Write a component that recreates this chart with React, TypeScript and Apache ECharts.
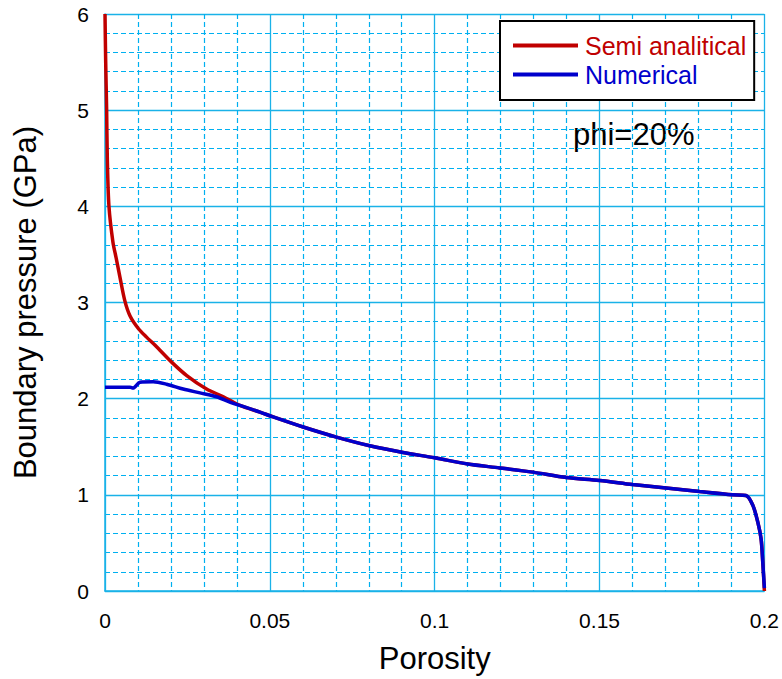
import React, { useEffect, useRef } from "react";
import * as echarts from "echarts";

const semiX = [0, 0.0002, 0.0005, 0.0007, 0.0012, 0.0024, 0.0034, 0.0045, 0.006, 0.0076, 0.0101, 0.0126, 0.0152, 0.0202, 0.0248, 0.0308, 0.0359, 0.0409, 0.047, 0.051, 0.0601, 0.0702, 0.0803, 0.0904, 0.1, 0.11, 0.1197, 0.1298, 0.1399, 0.15, 0.16, 0.1702, 0.1803, 0.1904, 0.1944, 0.1965, 0.198, 0.199, 0.1995, 0.2];
const semiY = [6.0, 5.52, 5.0, 4.5, 4.0, 3.63, 3.46, 3.27, 3.02, 2.86, 2.73, 2.64, 2.555, 2.38, 2.24, 2.1, 2.02, 1.93, 1.86, 1.81, 1.705, 1.6, 1.51, 1.44, 1.385, 1.32, 1.28, 1.236, 1.18, 1.15, 1.107, 1.07, 1.034, 1.0, 0.993, 0.89, 0.716, 0.54, 0.3, 0];

const numX = [0, 0.0076, 0.0085, 0.0106, 0.0146, 0.0187, 0.0237, 0.0288, 0.0338, 0.0389, 0.0409, 0.047, 0.051, 0.0601, 0.0702, 0.0803, 0.0904, 0.1, 0.11, 0.1197, 0.1298, 0.1399, 0.15, 0.16, 0.1702, 0.1803, 0.1904, 0.1944, 0.1965, 0.198, 0.199, 0.1995, 0.2];
const numY = [2.12, 2.12, 2.11, 2.17, 2.175, 2.15, 2.1, 2.06, 2.02, 1.95, 1.93, 1.86, 1.81, 1.705, 1.6, 1.51, 1.44, 1.385, 1.32, 1.28, 1.236, 1.18, 1.15, 1.107, 1.07, 1.034, 1.0, 0.993, 0.89, 0.716, 0.54, 0.3, 0.03];

const seriesNames = ["Semi analitical", "Numerical"];
const annotation = "phi=20%";
const xTitle = "Porosity";
const yTitle = "Boundary pressure (GPa)";

const FONT = "Liberation Sans, Arial, sans-serif";
const MAJOR = "#1ab2e8";
const MINOR = "#00b0f0";

export default function App() {
  const ref = useRef<HTMLDivElement>(null);
  useEffect(() => {
    if (!ref.current) return;
    const chart = echarts.init(ref.current, undefined, { renderer: "svg" });
    const semiData = semiX.map((x, i) => [x, semiY[i]]);
    const numData = numX.map((x, i) => [x, numY[i]]);
    chart.setOption({
      animation: false,
      backgroundColor: "#ffffff",
      textStyle: { fontFamily: FONT },
      grid: { left: 105, right: 17, top: 14, bottom: 87 },
      legend: {
        orient: "vertical",
        left: 500,
        top: 21,
        padding: [12, 8, 13, 13],
        itemGap: 4,
        itemWidth: 65,
        itemHeight: 4,
        icon: "rect",
        borderColor: "#000000",
        borderWidth: 2,
        backgroundColor: "#ffffff",
        data: [
          { name: seriesNames[0], textStyle: { color: "#c00000" } },
          { name: seriesNames[1], textStyle: { color: "#0000cc" } },
        ],
        textStyle: { fontSize: 25, fontFamily: FONT, padding: [0, 0, 0, 2] },
      },
      xAxis: {
        type: "value",
        min: 0,
        max: 0.2,
        interval: 0.05,
        minorSplitNumber: 5,
        name: xTitle,
        nameLocation: "middle",
        nameGap: 52,
        nameTextStyle: { fontSize: 31, color: "#000", fontFamily: FONT },
        axisLine: { show: true, lineStyle: { color: MAJOR, width: 1.5 } },
        axisTick: { show: false },
        axisLabel: { fontSize: 21, color: "#000", margin: 19, fontFamily: FONT },
        splitLine: { show: true, lineStyle: { color: MAJOR, width: 1.3 } },
        minorTick: { show: false },
        minorSplitLine: { show: true, lineStyle: { color: MINOR, width: 1.2, type: [5, 3], opacity: 1 } },
      },
      yAxis: {
        type: "value",
        min: 0,
        max: 6,
        interval: 1,
        minorSplitNumber: 5,
        name: yTitle,
        nameLocation: "middle",
        nameGap: 64,
        nameTextStyle: { fontSize: 31, color: "#000", fontFamily: FONT },
        axisLine: { show: true, lineStyle: { color: MAJOR, width: 1.5 } },
        axisTick: { show: false },
        axisLabel: { fontSize: 21, color: "#000", margin: 16, fontFamily: FONT },
        splitLine: { show: true, lineStyle: { color: MAJOR, width: 1.3 } },
        minorTick: { show: false },
        minorSplitLine: { show: true, lineStyle: { color: MINOR, width: 1.2, type: [5, 3], opacity: 1 } },
      },
      graphic: [
        {
          type: "text",
          x: 573,
          y: 134,
          style: {
            text: annotation,
            fontSize: 31,
            fontFamily: FONT,
            fill: "#000",
            verticalAlign: "middle",
            align: "left",
          },
        },
      ],
      series: [
        {
          name: seriesNames[0],
          type: "line",
          data: semiData,
          showSymbol: false,
          smooth: 0.3,
          lineStyle: { color: "#c00000", width: 3.5 },
          itemStyle: { color: "#c00000" },
          z: 2,
        },
        {
          name: seriesNames[1],
          type: "line",
          data: numData,
          showSymbol: false,
          smooth: 0.3,
          lineStyle: { color: "#0000cc", width: 3.5 },
          itemStyle: { color: "#0000cc" },
          z: 3,
        },
      ],
    });
    return () => chart.dispose();
  }, []);
  return (
    <div
      ref={ref}
      style={{ position: "fixed", left: 0, top: 0, width: 782, height: 679, background: "#fff" }}
    />
  );
}
